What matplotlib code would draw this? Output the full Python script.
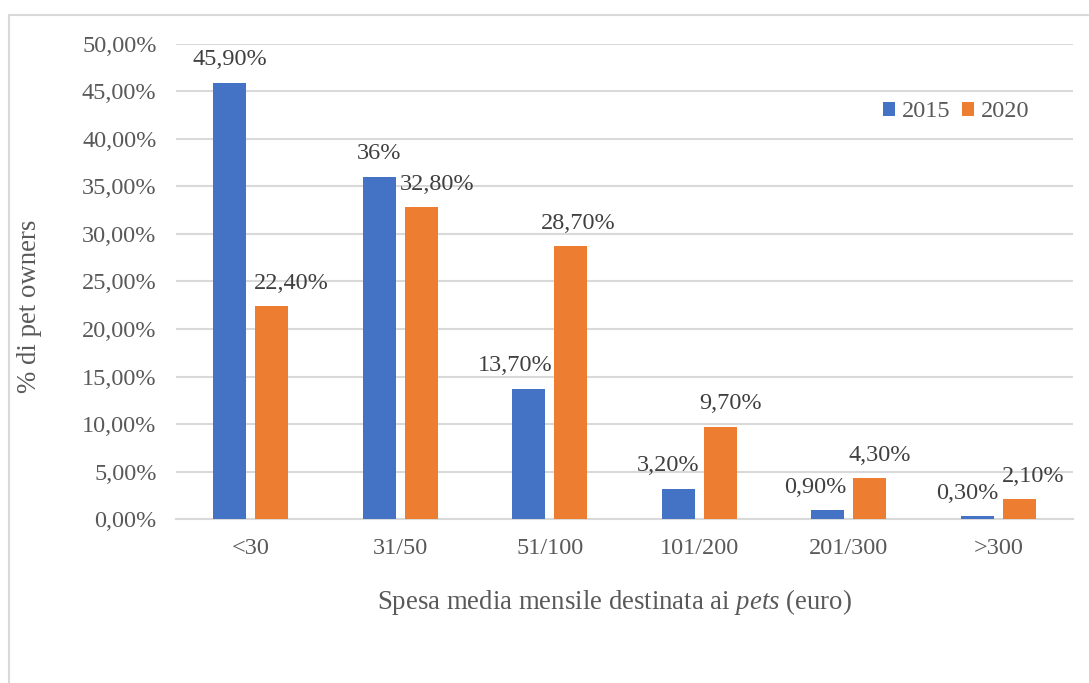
import matplotlib
matplotlib.use("Agg")
import matplotlib.pyplot as plt
import numpy as np
from matplotlib.patches import Rectangle
from matplotlib.ticker import FuncFormatter

categories = ["<30", "31/50", "51/100", "101/200", "201/300", ">300"]
values_2015 = [45.9, 36.0, 13.7, 3.2, 0.9, 0.3]
values_2020 = [22.4, 32.8, 28.7, 9.7, 4.3, 2.1]
labels_2015 = ["45,90%", "36%", "13,70%", "3,20%", "0,90%", "0,30%"]
labels_2020 = ["22,40%", "32,80%", "28,70%", "9,70%", "4,30%", "2,10%"]
series_names = ["2015", "2020"]

# horizontal nudges of data labels (pixels), as placed in the original
nudge_2015 = [0, 0, -14, -10, -12, -10]
nudge_2020 = [20, 16, 8, 10, 10, 14]

plt.rcParams['font.family'] = ['Liberation Serif', 'DejaVu Serif']
plt.rcParams['mathtext.fontset'] = 'custom'
plt.rcParams['mathtext.rm'] = 'Liberation Serif'
plt.rcParams['mathtext.it'] = 'Liberation Serif:italic'

fig = plt.figure(figsize=(10.89, 6.83), dpi=100)
ax = fig.add_axes([0.1616, 0.2401, 0.9853 - 0.1616, 0.9356 - 0.2401])

# chart border
fig.patches.append(Rectangle((9 / 1089, -0.1), 1.2, 1.1 - 15 / 683,
                             transform=fig.transFigure, fill=False,
                             edgecolor='#d9d9d9', linewidth=1.5, zorder=0))

x = np.arange(len(categories))
w = 0.22
off = 0.14
b1 = ax.bar(x - off, values_2015, w, color='#4472C4', label=series_names[0], zorder=3)
b2 = ax.bar(x + off, values_2020, w, color='#ED7D31', label=series_names[1], zorder=3)

fs = 17.5
fs_title = 19.3
for bars, labs, nud in ((b1, labels_2015, nudge_2015), (b2, labels_2020, nudge_2020)):
    for rect, lab, dx in zip(bars, labs, nud):
        ax.annotate(lab, (rect.get_x() + rect.get_width() / 2, rect.get_height()),
                    xytext=(dx, 23), textcoords='offset pixels',
                    ha='center', va='center', fontsize=fs, color='#404040')

ax.set_xlim(-0.5, len(categories) - 0.5)
ax.set_ylim(0, 50)
ax.set_yticks(np.arange(0, 50.1, 5))
ax.yaxis.set_major_formatter(FuncFormatter(lambda v, p: f"{v:.2f}".replace('.', ',') + "%"))
ax.set_xticks(x)
ax.set_xticklabels(categories)
ax.tick_params(axis='both', length=0, labelsize=fs, colors='#595959')
ax.tick_params(axis='x', pad=14)
ax.tick_params(axis='y', pad=14)
ax.grid(axis='y', color='#d9d9d9', linewidth=1.5, zorder=0)
ax.set_axisbelow(True)
for s in ['top', 'right', 'left']:
    ax.spines[s].set_visible(False)
ax.spines['bottom'].set_color('#d9d9d9')
ax.spines['bottom'].set_linewidth(1.5)

fig.text(614 / 1089, 1 - 602 / 683, r"Spesa media mensile destinata ai $\mathit{pets}$ (euro)",
         ha='center', va='center', fontsize=fs_title, color='#595959')
fig.text(30 / 1089, 1 - 306 / 683, "% di pet owners", rotation=90,
         ha='center', va='center', fontsize=fs_title, color='#595959')

leg = ax.legend(loc='center right', bbox_to_anchor=(0.951, 0.857), frameon=False, ncol=2,
                fontsize=fs, handlelength=0.5, handleheight=0.5, handletextpad=0.25,
                columnspacing=0.5, borderpad=0, borderaxespad=0, labelcolor='#595959')

fig.savefig("out.png", dpi=100)
